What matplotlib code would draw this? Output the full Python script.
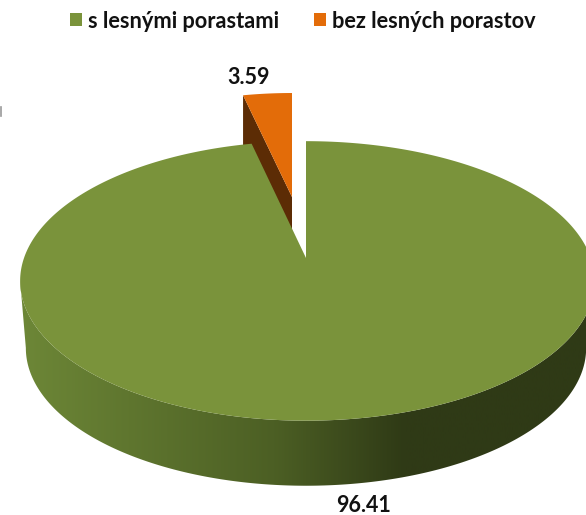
import numpy as np
import matplotlib
matplotlib.use("Agg")
import matplotlib.pyplot as plt
from matplotlib.patches import Polygon, Patch
from matplotlib.colors import LinearSegmentedColormap

plt.rcParams['font.family'] = ['Lato', 'DejaVu Sans']

# chart data
labels = ["s lesnými porastami", "bez lesných porastov"]
values = [96.41, 3.59]

GREEN, ORANGE, BROWN = "#7a933b", "#e36c09", "#5c2c05"
wall_cmap = LinearSegmentedColormap.from_list(
    "wall", [(0, "#6d8737"), (0.45, "#4c5f24"), (0.68, "#2f3a16"), (1, "#2f3a16")])


def project(t, x0=306, y0=258, a=282, b=136, k=0.164, sx=1.0, sy=1.0, right=1.0):
    """circle angle (clockwise from top) to screen, with a little perspective"""
    u, v = np.sin(t), np.cos(t)
    u = np.where(u > 0, u * right, u)
    return np.column_stack([x0 + sx * a * u / (1 + k * v), y0 - sy * b * v / (1 + k * v)])


fig = plt.figure(figsize=(5.86, 5.15), dpi=100)
ax = fig.add_axes([0, 0, 1, 1])
ax.set_xlim(0, 586)
ax.set_ylim(515, 0)
ax.axis("off")

# small slice sits just left of 12 o'clock
small = 2 * np.pi * values[1] / sum(values)
big_t = np.linspace(0, 2 * np.pi - small, 400)
apex = np.array([[306, 258]])

# side wall of the big slice, gradient clipped to its outline
t_low = np.linspace(np.pi * 0.552, np.pi * 1.448, 300)
wall = np.vstack([project(t_low, right=1.01),
                  project(t_low[::-1], y0=325.5, sx=0.98, sy=0.985)])
wall_patch = Polygon(wall, closed=True, fc="none", ec="none")
ax.add_patch(wall_patch)
im = ax.imshow(np.linspace(0, 1, 256)[None, :], cmap=wall_cmap, vmin=0, vmax=1,
               extent=(20, 586, 515, 0), aspect="auto", zorder=1)
im.set_clip_path(wall_patch)
ax.set_xlim(0, 586)
ax.set_ylim(515, 0)

# exploded small slice
ex = dict(x0=292, y0=197, sx=0.9, sy=0.89)
sm_t = np.linspace(2 * np.pi - small, 2 * np.pi, 40)
sm_rim = project(sm_t, **ex)
tip = np.array([[292, 197]])
corner = project(np.array([2 * np.pi - small]), **ex)
side = np.vstack([tip, corner, corner + [0, 60], tip + [0, 60]])
ax.add_patch(Polygon(side, closed=True, fc=BROWN, ec="none", zorder=2))
ax.add_patch(Polygon(np.vstack([tip, sm_rim]), closed=True, fc=ORANGE, ec="none", zorder=3))

# top of the big slice
ax.add_patch(Polygon(np.vstack([apex, project(big_t, right=1.01)]), closed=True,
                     fc=GREEN, ec="none", zorder=4))

# value labels
ax.text(249, 78, f"{values[1]:.2f}", ha="center", va="center", fontsize=15.5,
        fontweight="bold", color="#111111", zorder=5)
ax.text(364, 505, f"{values[0]:.2f}", ha="center", va="center", fontsize=15.5,
        fontweight="bold", color="#111111", zorder=5)

handles = [Patch(fc=GREEN, ec="none"), Patch(fc=ORANGE, ec="none")]
leg = ax.legend(handles, labels, loc="center", bbox_to_anchor=(303 / 586, 1 - 21 / 515),
                ncol=2, frameon=False, prop=dict(size=15.7, weight="bold"),
                handlelength=0.56, handleheight=0.56, handletextpad=0.28, columnspacing=1.6)
for t in leg.get_texts():
    t.set_color("#111111")

# stray bit of axis at the left edge of the crop
ax.plot([0.5, 0.5], [107, 116], color="#999999", lw=1.2)

fig.savefig("out.png", dpi=100)
